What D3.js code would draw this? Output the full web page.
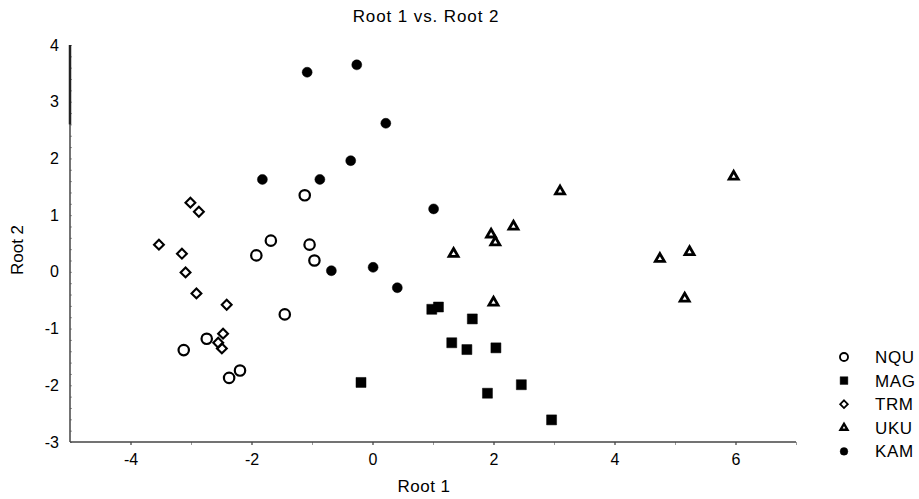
<!DOCTYPE html>
<meta charset="utf-8">
<head>
  <meta charset="UTF-8">
  <title>Root 1 vs. Root 2</title>
  <style>
    body { margin: 0; background: #fff; }
    text { font-family: "Liberation Sans", Arial, sans-serif; fill: #000; }
    .axis path, .axis line { stroke: #444; }
    .minor line { stroke: #999; }
  </style>
</head>
<body>
<script src="https://d3js.org/d3.v7.min.js"></script>
<div id="chart"></div>
<script>

// Group names (legend order)
var groups = ["NQU", "MAG", "TRM", "UKU", "KAM"];

// Root 1 / Root 2 scores per group
var nquX = [-1.12, -1.68, -1.92, -1.04, -0.96, -1.45, -2.74, -3.12, -2.19, -2.37];
var nquY = [ 1.35,  0.55,  0.29,  0.48,  0.20, -0.75, -1.18, -1.38, -1.74, -1.87];

var magX = [-0.19,  0.98,  1.09,  1.65,  1.31,  1.56,  2.04,  2.46,  1.90,  2.96];
var magY = [-1.95, -0.66, -0.62, -0.83, -1.25, -1.37, -1.34, -1.99, -2.14, -2.61];

var trmX = [-3.01, -2.87, -3.53, -3.15, -3.09, -2.91, -2.41, -2.47, -2.55, -2.49];
var trmY = [ 1.22,  1.06,  0.48,  0.32, -0.01, -0.38, -0.58, -1.09, -1.25, -1.35];

var ukuX = [3.10, 2.33, 1.96, 2.03, 1.34,  2.00, 5.97, 4.75, 5.24,  5.16];
var ukuY = [1.42, 0.80, 0.66, 0.52, 0.32, -0.54, 1.68, 0.23, 0.35, -0.47];

var kamX = [-1.08, -0.26, 0.22, -0.36, -1.82, -0.87, 1.01, -0.68, 0.01,  0.41];
var kamY = [ 3.52,  3.65, 2.62,  1.96,  1.63,  1.63, 1.11,  0.02, 0.08, -0.28];

var xTickLabels = [-4, -2, 0, 2, 4, 6];
var yTickLabels = [-3, -2, -1, 0, 1, 2, 3, 4];

// marker style per group
var markers = {
  NQU: {shape: d3.symbolCircle,    fill: "none", size: 85,  sw: 2.2},
  MAG: {shape: d3.symbolSquare,    fill: "#000", size: 100, sw: 0.5},
  TRM: {shape: d3.symbolDiamond2,  fill: "none", size: 62,  sw: 2.1},
  UKU: {shape: d3.symbolTriangle2, fill: "none", size: 58,  sw: 2.8},
  KAM: {shape: d3.symbolCircle,    fill: "#000", size: 78,  sw: 0.5}
};

var series = [
  {name: "NQU", xs: nquX, ys: nquY},
  {name: "MAG", xs: magX, ys: magY},
  {name: "TRM", xs: trmX, ys: trmY},
  {name: "UKU", xs: ukuX, ys: ukuY},
  {name: "KAM", xs: kamX, ys: kamY}
];

var width = 919, height = 499;

var x = d3.scaleLinear().domain([-5, 7]).range([70, 796]);
var y = d3.scaleLinear().domain([-3, 4]).range([442, 45]);

var svg = d3.select("#chart").append("svg")
    .attr("width", width)
    .attr("height", height);

// title
svg.append("text")
    .attr("x", 426).attr("y", 22)
    .attr("text-anchor", "middle")
    .style("font-size", "17px")
    .style("letter-spacing", "0.9px")
    .text("Root 1 vs. Root 2");

// minor ticks
svg.append("g")
    .attr("class", "axis minor")
    .attr("transform", "translate(0,442)")
    .call(d3.axisBottom(x).tickValues(d3.range(-4, 8, 1)).tickSize(3).tickFormat(""))
    .select(".domain").remove();

svg.append("g")
    .attr("class", "axis minor")
    .attr("transform", "translate(70,0)")
    .call(d3.axisRight(y).tickValues(d3.range(-3, 4.01, 0.2)).tickSize(2).tickFormat(""))
    .select(".domain").remove();

// x axis
var xAxis = svg.append("g")
    .attr("class", "axis")
    .attr("transform", "translate(0,442)")
    .call(d3.axisBottom(x).tickValues(xTickLabels).tickSize(3).tickSizeOuter(0).tickPadding(9)
      .tickFormat(function(d) { return d; }));
xAxis.select(".domain").attr("d", "M70,0H796").style("stroke-width", 1.5);
xAxis.selectAll("text").style("font-size", "16px").style("font-family", "Liberation Sans, Arial, sans-serif");

// y axis
var yAxis = svg.append("g")
    .attr("class", "axis")
    .attr("transform", "translate(70,0)")
    .call(d3.axisLeft(y).tickValues(yTickLabels).tickSize(0).tickSizeOuter(0).tickPadding(11)
      .tickFormat(function(d) { return d; }));
yAxis.select(".domain").attr("d", "M0,45V442").style("stroke-width", 1.5);
yAxis.selectAll("text").style("font-size", "16px").style("font-family", "Liberation Sans, Arial, sans-serif");

// heavier stretch at the top of the y axis line
svg.append("line")
    .attr("x1", 70).attr("x2", 70)
    .attr("y1", y(4)).attr("y2", y(2.6))
    .style("stroke", "#222").style("stroke-width", 2.5);

// axis titles
svg.append("text")
    .attr("x", 424).attr("y", 492)
    .attr("text-anchor", "middle")
    .style("font-size", "17px")
    .style("letter-spacing", "0.5px")
    .text("Root 1");

svg.append("text")
    .attr("transform", "translate(23,250)rotate(-90)")
    .attr("text-anchor", "middle")
    .style("font-size", "17px")
    .text("Root 2");

// points
var symbol = d3.symbol();

series.forEach(function(s) {
  var m = markers[s.name];
  var pts = s.xs.map(function(v, i) { return [v, s.ys[i]]; });
  svg.append("g").selectAll("path")
    .data(pts)
    .enter().append("path")
      .attr("transform", function(d) { return "translate(" + x(d[0]) + "," + y(d[1]) + ")"; })
      .attr("d", symbol.type(m.shape).size(m.size)())
      .style("fill", m.fill)
      .style("stroke", "#000")
      .style("stroke-width", m.sw);
});

// legend
var legend = svg.append("g").selectAll("g")
    .data(groups)
    .enter().append("g")
      .attr("transform", function(d, i) { return "translate(844," + (357 + i * 23.6) + ")"; });

legend.append("path")
    .attr("d", function(d) { return d3.symbol().type(markers[d].shape).size(markers[d].size * 0.6)(); })
    .style("fill", function(d) { return markers[d].fill; })
    .style("stroke", "#000")
    .style("stroke-width", function(d) { return markers[d].sw * 0.85; });

legend.append("text")
    .attr("x", 31).attr("y", 6)
    .style("font-size", "17px")
    .style("letter-spacing", "0.6px")
    .text(function(d) { return d; });

</script>
</body>
